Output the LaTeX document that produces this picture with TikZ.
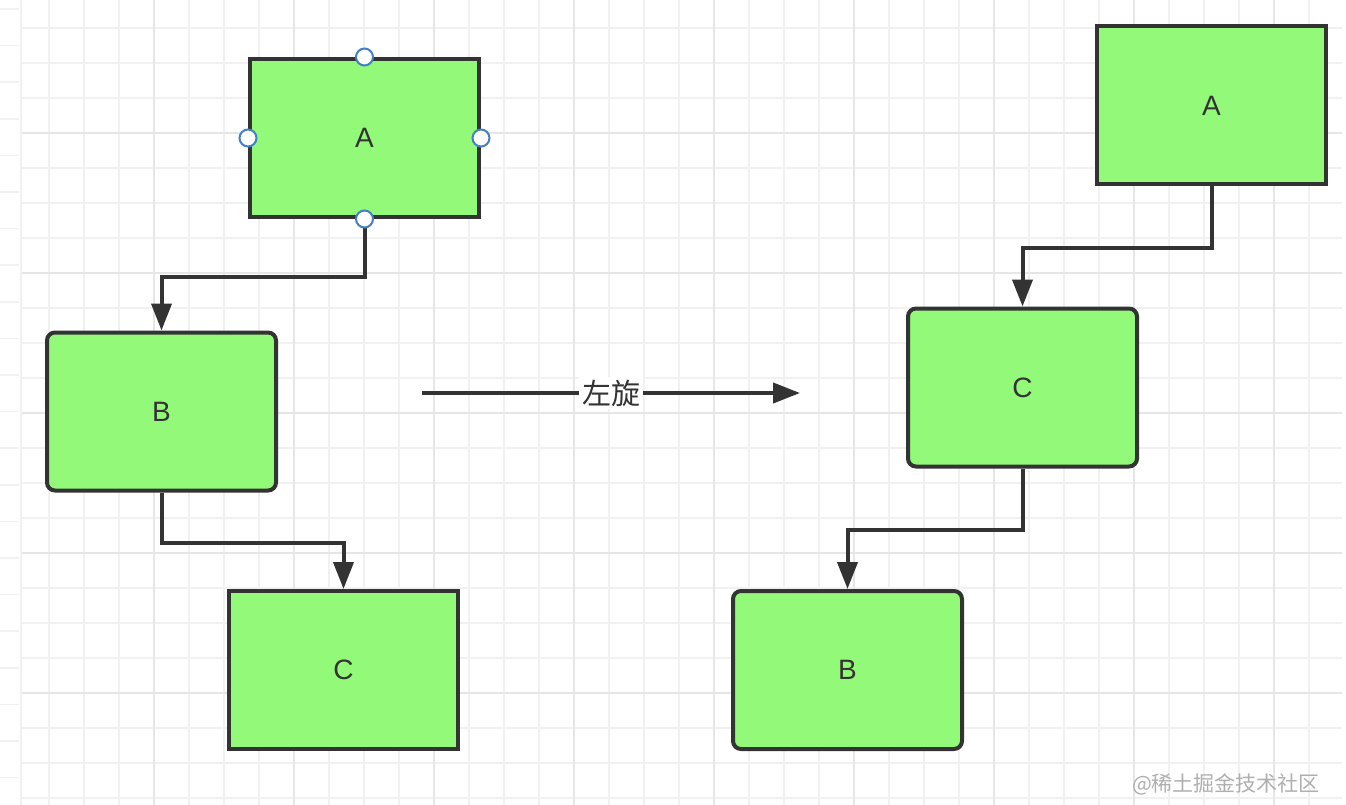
\documentclass[tikz,border=0pt]{standalone}
\usepackage{fontspec}
\setmainfont{Liberation Sans}
\newfontfamily\cjk{Noto Sans CJK SC}
\usetikzlibrary{arrows.meta}
\definecolor{boxgreen}{RGB}{147,249,121}
\definecolor{edge}{RGB}{51,51,51}
\definecolor{minorgrid}{RGB}{241,241,241}
\definecolor{majorgrid}{RGB}{230,230,230}
\definecolor{handleblue}{RGB}{70,125,200}
\definecolor{wmark}{RGB}{175,175,175}
\tikzset{
  box/.style={draw=edge, fill=boxgreen, line width=4pt, minimum width=229pt, minimum height=158pt, inner sep=0pt, text=edge, font=\fontsize{28}{30}\selectfont},
  roundbox/.style={box, rounded corners=8pt},
  conn/.style={draw=edge, line width=4pt, -{Triangle[length=27pt,width=20pt]}},
  handle/.style={circle, draw=handleblue, fill=white, line width=2pt, minimum size=17pt, inner sep=0pt},
  gridminor/.style={draw=minorgrid, line width=2pt},
  gridmajor/.style={draw=majorgrid, line width=2pt},
}
\begin{document}
\begin{tikzpicture}[x=1pt,y=-1pt]
\useasboundingbox (0,0) rectangle (1346,805);
\fill[white] (0,0) rectangle (1346,805);
% grid
\foreach \k in {0,...,36} {
  \pgfmathsetmacro{\gx}{49+35*\k}
  \draw[gridminor] (\gx,0) -- (\gx,805);
}
\foreach \k in {0,...,22} {
  \pgfmathsetmacro{\gy}{28+35*\k}
  \draw[gridminor] (22,\gy) -- (1342,\gy);
}
\foreach \k in {0,...,8} {
  \pgfmathsetmacro{\gx}{154+140*\k}
  \draw[gridmajor] (\gx,0) -- (\gx,805);
}
\foreach \k in {0,...,4} {
  \pgfmathsetmacro{\gy}{133+140*\k}
  \draw[gridmajor] (22,\gy) -- (1342,\gy);
}
\fill[white] (0,0) rectangle (21,805);
\draw[minorgrid, line width=1.5pt] (21,0) -- (21,805);
\foreach \k in {0,...,21} {
  \pgfmathsetmacro{\ty}{9+36.6*\k}
  \draw[minorgrid, line width=1.5pt] (0,\ty) -- (19,\ty);
}
% left tree
\node[box] (A1) at (364.5,138) {A};
\node[roundbox] (B1) at (161.5,411.5) {B};
\node[box] (C1) at (343.5,670) {C};
\draw[conn] (A1.south) -- ++(0,58) -| (B1.north);
\draw[conn] (B1.south) -- ++(0,50) -| (C1.north);
\node[handle] (hN) at (A1.north) {};
\node[handle] (hS) at (A1.south) {};
\node[handle] (hW) at (A1.west) {};
\node[handle] (hE) at (A1.east) {};
% rotation arrow
\coordinate (rs) at (422,393);
\coordinate (re) at (800,393);
\draw[conn] (rs) -- node[fill=white, inner sep=3pt, text=edge, font=\cjk\fontsize{29}{31}\selectfont] (lbl) {左旋} (re);
% right tree
\node[box] (A2) at (1211.5,105.5) {A};
\node[roundbox] (C2) at (1022.5,387.5) {C};
\node[roundbox] (B2) at (847.5,670) {B};
\draw[conn] (A2.south) -- ++(0,61) -| (C2.north);
\draw[conn] (C2.south) -- ++(0,61) -| (B2.north);
% watermark
\node[text=wmark, font=\cjk\fontsize{21}{23}\selectfont, inner sep=0pt] (wm) at (1226,784) {@稀土掘金技术社区};
\end{tikzpicture}
\end{document}
